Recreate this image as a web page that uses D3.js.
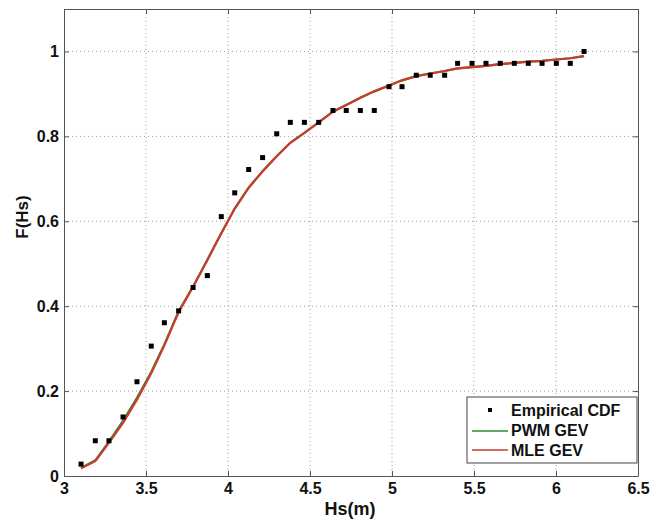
<!DOCTYPE html>
<html>
<head>
<meta charset="utf-8">
<script src="https://cdn.jsdelivr.net/npm/d3@7"></script>
<style>
  body { margin: 0; background: #fff; }
  svg { display: block; font-family: "Liberation Sans", Arial, sans-serif; }
</style>
</head>
<body>
<svg width="657" height="524"></svg>
<script>
// Hs values (m) of the empirical CDF points, curves evaluated at the same Hs
let hs = [3.104, 3.191, 3.274, 3.360, 3.445, 3.532, 3.612, 3.699, 3.787, 3.874,
          3.959, 4.041, 4.126, 4.211, 4.297, 4.380, 4.466, 4.553, 4.640, 4.721,
          4.807, 4.892, 4.982, 5.061, 5.148, 5.233, 5.321, 5.400, 5.488, 5.573,
          5.660, 5.746, 5.831, 5.915, 6.002, 6.087, 6.171];

let empirical = [0.028, 0.083, 0.083, 0.139, 0.222, 0.306, 0.361, 0.389, 0.444, 0.472,
                 0.611, 0.667, 0.722, 0.750, 0.806, 0.833, 0.833, 0.833, 0.861, 0.861,
                 0.861, 0.861, 0.917, 0.917, 0.944, 0.944, 0.944, 0.972, 0.972, 0.972,
                 0.972, 0.972, 0.972, 0.972, 0.972, 0.972, 1.000];

let pwm = [0.019, 0.037, 0.081, 0.130, 0.184, 0.245, 0.310, 0.388, 0.446, 0.509,
           0.572, 0.630, 0.679, 0.718, 0.753, 0.785, 0.808, 0.833, 0.858, 0.874,
           0.891, 0.906, 0.920, 0.932, 0.942, 0.948, 0.954, 0.960, 0.963, 0.966,
           0.970, 0.973, 0.976, 0.978, 0.981, 0.984, 0.989];

let mle = [0.018, 0.035, 0.078, 0.125, 0.180, 0.242, 0.308, 0.386, 0.446, 0.509,
           0.572, 0.630, 0.679, 0.718, 0.753, 0.785, 0.808, 0.833, 0.858, 0.874,
           0.891, 0.906, 0.920, 0.932, 0.942, 0.948, 0.954, 0.960, 0.963, 0.966,
           0.970, 0.973, 0.976, 0.978, 0.981, 0.984, 0.989];

let xTicks = [3, 3.5, 4, 4.5, 5, 5.5, 6, 6.5];
let yTicks = [0, 0.2, 0.4, 0.6, 0.8, 1];
let legendNames = ["Empirical CDF", "PWM GEV", "MLE GEV"];

let plotL = 64, plotR = 638, plotT = 9, plotB = 476;
let svg = d3.select('svg');

let x = d3.scaleLinear().domain([3, 6.5]).range([plotL, plotR]);
let y = d3.scaleLinear().domain([0, 1.1]).range([plotB, plotT]);

// dotted grid
let grid = svg.append('g').attr('stroke', '#9a9a9a').attr('stroke-width', 1)
    .attr('stroke-dasharray', '1,3');
grid.selectAll('.gx').data(xTicks.slice(1, -1)).enter().append('line')
    .attr('x1', d => x(d)).attr('x2', d => x(d))
    .attr('y1', plotT).attr('y2', plotB);
grid.selectAll('.gy').data(yTicks.slice(1)).enter().append('line')
    .attr('x1', plotL).attr('x2', plotR)
    .attr('y1', d => y(d)).attr('y2', d => y(d));

// axes with inward ticks on all four sides
function styleAxis(g) {
    g.selectAll('path').attr('stroke', '#555');
    g.selectAll('line').attr('stroke', '#555');
    g.selectAll('text').attr('font-size', 16).attr('font-weight', 'bold').attr('fill', '#111');
}
svg.append('g').attr('transform', 'translate(0,' + plotB + ')')
    .call(d3.axisBottom(x).tickValues(xTicks).tickSizeInner(-5).tickSizeOuter(0)
        .tickPadding(7).tickFormat(d3.format('')))
    .call(styleAxis);
svg.append('g').attr('transform', 'translate(' + plotL + ',0)')
    .call(d3.axisLeft(y).tickValues(yTicks).tickSizeInner(-5).tickSizeOuter(0)
        .tickPadding(5).tickFormat(d3.format('')))
    .call(styleAxis);
svg.append('g').attr('transform', 'translate(0,' + plotT + ')')
    .call(d3.axisTop(x).tickValues(xTicks).tickSizeInner(-5).tickSizeOuter(0).tickFormat(''))
    .call(styleAxis);
svg.append('g').attr('transform', 'translate(' + plotR + ',0)')
    .call(d3.axisRight(y).tickValues(yTicks).tickSizeInner(-5).tickSizeOuter(0).tickFormat(''))
    .call(styleAxis);

// curves
let line = d3.line().x((d, i) => x(hs[i])).y(d => y(d));
svg.append('path').datum(pwm).attr('d', line)
    .attr('fill', 'none').attr('stroke', '#2f8a2f').attr('stroke-width', 2.2);
svg.append('path').datum(mle).attr('d', line)
    .attr('fill', 'none').attr('stroke', '#cc3b2e').attr('stroke-width', 2.2);

// empirical points
svg.selectAll('.pt').data(empirical).enter().append('rect')
    .attr('x', (d, i) => x(hs[i]) - 2.5).attr('y', d => y(d) - 2.5)
    .attr('width', 5).attr('height', 5).attr('fill', '#000');

// axis labels
svg.append('text').attr('x', 350).attr('y', 515).attr('text-anchor', 'middle')
    .attr('font-size', 18).attr('font-weight', 'bold').attr('fill', '#111').text('Hs(m)');
svg.append('text').attr('transform', 'translate(28,217) rotate(-90)').attr('text-anchor', 'middle')
    .attr('font-size', 17).attr('font-weight', 'bold').attr('fill', '#111').text('F(Hs)');

// legend
let lg = svg.append('g');
lg.append('rect').attr('x', 467).attr('y', 397).attr('width', 170).attr('height', 66)
    .attr('fill', '#fff').attr('stroke', '#444').attr('stroke-width', 1);
lg.append('rect').attr('x', 488).attr('y', 408).attr('width', 4).attr('height', 4).attr('fill', '#000');
lg.append('line').attr('x1', 472).attr('x2', 508).attr('y1', 431).attr('y2', 431)
    .attr('stroke', '#2f8a2f').attr('stroke-width', 1.5);
lg.append('line').attr('x1', 472).attr('x2', 508).attr('y1', 450).attr('y2', 450)
    .attr('stroke', '#cc3b2e').attr('stroke-width', 1.5);
lg.selectAll('.lt').data(legendNames).enter().append('text')
    .attr('x', 511).attr('y', (d, i) => 416 + i * 20)
    .attr('font-size', 16).attr('font-weight', 'bold').attr('fill', '#111').text(d => d);
</script>
</body>
</html>
